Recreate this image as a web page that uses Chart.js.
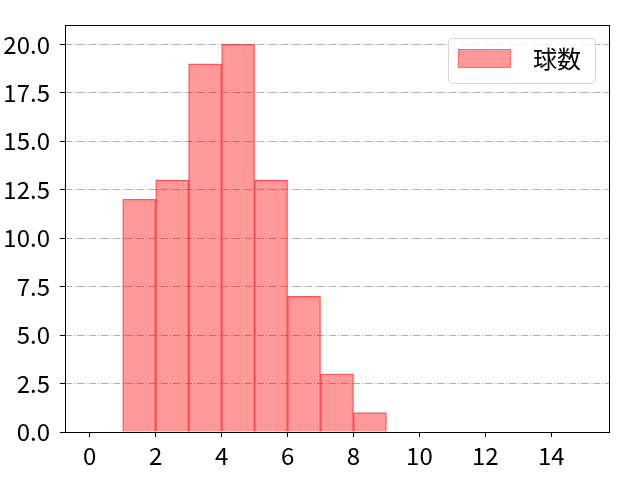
<!DOCTYPE html>
<html>
<head>
<meta charset="utf-8">
<script src="https://cdn.jsdelivr.net/npm/chart.js@4"></script>
<style>
  html, body { margin: 0; padding: 0; background: #fff; }
  #wrap { width: 640px; height: 480px; }
</style>
</head>
<body>
<div id="wrap"><canvas id="myChart" width="640" height="480"></canvas></div>
<script>
// histogram bins (left edges, width 1) and counts
var binStarts = [0, 1, 2, 3, 4, 5, 6, 7, 8, 9, 10, 11, 12, 13, 14];
var counts = [0, 12, 13, 19, 20, 13, 7, 3, 1, 0, 0, 0, 0, 0, 0];
var xTicks = [0, 2, 4, 6, 8, 10, 12, 14];
var yTicks = [0, 2.5, 5, 7.5, 10, 12.5, 15, 17.5, 20];
var label = "球数";

var fontFamily = "'Noto Sans CJK JP', 'Noto Sans', sans-serif";
var fill = "rgba(255, 0, 0, 0.4)";
var edge = "rgba(255, 0, 0, 0.6)";

var points = [];
for (var i = 0; i < binStarts.length; i++) {
  points.push({ x: binStarts[i] + 0.5, y: counts[i] });
}

// black box round the plot area, like matplotlib spines
var frame = {
  id: "frame",
  afterDatasetsDraw: function (chart) {
    var a = chart.chartArea;
    var c = chart.ctx;
    c.save();
    c.strokeStyle = "#000";
    c.lineWidth = 1;
    c.strokeRect(Math.round(a.left) + 0.5, Math.round(a.top) + 0.5,
      Math.round(a.right - a.left), Math.round(a.bottom - a.top));
    c.restore();
  },
};

// legend box in the upper right
var legendBox = {
  id: "legendBox",
  afterDraw: function (chart) {
    var c = chart.ctx;
    var a = chart.chartArea;
    var w = 147, h = 45;
    var x = a.right - 14 - w, y = a.top + 13;
    c.save();
    c.beginPath();
    c.roundRect(x + 0.5, y + 0.5, w, h, 4);
    c.fillStyle = "rgba(255,255,255,0.85)";
    c.fill();
    c.strokeStyle = "#d6d6d6";
    c.lineWidth = 1;
    c.stroke();
    c.fillStyle = fill;
    c.fillRect(x + 10, y + 11, 53, 19);
    c.strokeStyle = "rgba(255, 0, 0, 0.3)";
    c.strokeRect(x + 10.5, y + 11.5, 52, 18);
    c.fillStyle = "#000";
    c.font = "24px " + fontFamily;
    c.textBaseline = "middle";
    c.fillText(chart.data.datasets[0].label, x + 85, y + 21);
    c.restore();
  },
};

var ctx = document.getElementById("myChart");
var config = {
  type: "bar",
  data: {
    datasets: [
      {
        label: label,
        data: points,
        backgroundColor: fill,
        borderColor: edge,
        borderWidth: 0.6,
        barPercentage: 1,
        categoryPercentage: 1,
      },
    ],
  },
  options: {
    responsive: false,
    animation: false,
    layout: { padding: { top: 25, right: 31, left: 0, bottom: 0 } },
    plugins: { legend: { display: false }, tooltip: { enabled: false } },
    scales: {
      x: {
        type: "linear",
        min: -0.75,
        max: 15.75,
        offset: false,
        afterBuildTicks: function (s) {
          s.ticks = xTicks.map(function (v) { return { value: v }; });
        },
        afterFit: function (s) { s.height = 48; },
        grid: { offset: false, drawOnChartArea: false, tickLength: 5, tickColor: "#000" },
        border: { display: false },
        ticks: {
          color: "#000",
          padding: 4,
          maxRotation: 0,
          font: { family: fontFamily, size: 24 },
        },
      },
      y: {
        min: 0,
        max: 21,
        afterBuildTicks: function (s) {
          s.ticks = yTicks.map(function (v) { return { value: v }; });
        },
        afterFit: function (s) { s.width = 65; },
        grid: { color: "#b0b0b0", tickLength: 5, tickColor: "#000", tickBorderDash: [] },
        border: { display: false, dash: [7, 2, 1, 2] },
        ticks: {
          color: "#000",
          padding: 10,
          font: { family: fontFamily, size: 24 },
          callback: function (v) { return v.toFixed(1); },
        },
      },
    },
  },
  plugins: [frame, legendBox],
};

var myChart = new Chart(ctx, config);
</script>
</body>
</html>
